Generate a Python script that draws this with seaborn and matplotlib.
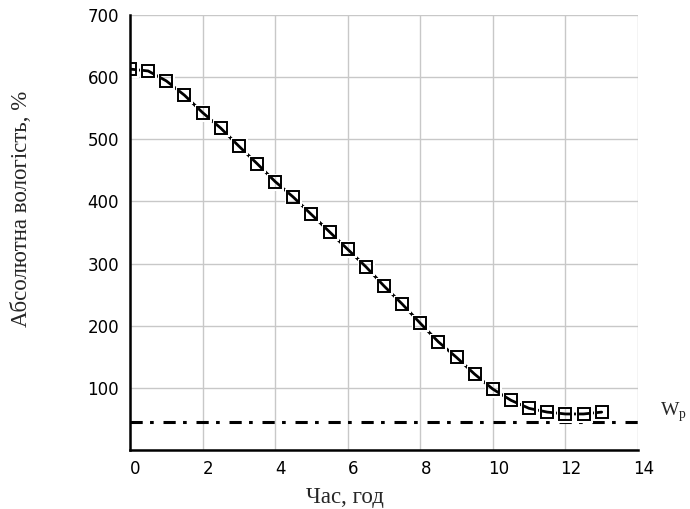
import matplotlib
matplotlib.use("Agg")
import matplotlib.pyplot as plt
import matplotlib.transforms as mtransforms
import seaborn as sns
import pandas as pd

# Drying curve: absolute moisture content over time
hours = [0, 0.5, 1, 1.5, 2, 2.5, 3, 3.5, 4, 4.5, 5, 5.5, 6, 6.5, 7, 7.5,
         8, 8.5, 9, 9.5, 10, 10.5, 11, 11.5, 12, 12.5, 13]
moisture = [613, 610, 594, 571, 543, 518, 489, 461, 432, 407, 379, 351, 323,
            295, 264, 235, 204, 174, 149, 122, 98, 80, 67, 61, 58, 58, 61]
equilibrium_moisture = 45  # W_p
x_ticks = [0, 2, 4, 6, 8, 10, 12, 14]
y_ticks = [0, 100, 200, 300, 400, 500, 600, 700]
y_tick_labels = ["", "100", "200", "300", "400", "500", "600", "700"]

sns.set_theme(style="white")
plt.rcParams["font.family"] = ["DejaVu Sans"]
serif = ["Liberation Serif", "DejaVu Serif"]

df = pd.DataFrame({"t": hours, "w": moisture})

fig = plt.figure(figsize=(6.9, 5.09), dpi=100)
ax = fig.add_axes([0.1884, 0.1159, 0.7362, 0.8546])

ax.grid(True, color="#c8c8c8", linewidth=1.0)
ax.set_axisbelow(True)

# equilibrium moisture level
ax.axhline(equilibrium_moisture, color="black", linewidth=2.2,
           linestyle=(0, (4, 2.4, 1.2, 3.2)), zorder=2)

# curve, then a white ring around each marker, then the open squares
sns.lineplot(data=df, x="t", y="w", ax=ax, color="black", linewidth=2.0,
             zorder=3)
sns.lineplot(data=df, x="t", y="w", ax=ax, linestyle="", marker="s",
             markersize=10.2, markerfacecolor="none", markeredgecolor="white",
             markeredgewidth=2.2, zorder=4)
sns.lineplot(data=df, x="t", y="w", ax=ax, linestyle="", marker="s",
             markersize=8.5, markerfacecolor="none", markeredgecolor="black",
             markeredgewidth=1.4, zorder=5)

ax.set_xlim(0, 14)
ax.set_ylim(0, 700)
ax.set_xticks(x_ticks)
ax.set_yticks(y_ticks)
ax.set_yticklabels(y_tick_labels)

for side in ["top", "right"]:
    ax.spines[side].set_visible(False)
for side in ["left", "bottom"]:
    ax.spines[side].set_color("black")
    ax.spines[side].set_linewidth(1.8)
    ax.spines[side].set_zorder(6)

ax.tick_params(axis="x", direction="inout", length=12, width=1.3,
               labelsize=12, colors="black", pad=1)
ax.tick_params(axis="y", direction="out", length=8, width=1.3,
               labelsize=12, colors="black", pad=0)
shift = mtransforms.ScaledTranslation(4 / 72, 0, fig.dpi_scale_trans)
for lbl in ax.get_xticklabels():
    lbl.set_transform(lbl.get_transform() + shift)

ax.set_xlabel("Час, год", family=serif, fontsize=16.5)
ax.xaxis.label.set_va("center")
ax.xaxis.set_label_coords(0.423, -0.110)
ax.set_ylabel("Абсолютна вологість, %", family=serif, fontsize=16.5)
ax.yaxis.label.set_va("center")
ax.yaxis.set_label_coords(-0.2126, 0.554)

ax.text(1.043, 61, "W$_\\mathregular{p}$", transform=ax.get_yaxis_transform(),
        family=serif, fontsize=14, ha="left", va="center")

fig.savefig("out.png", dpi=100)
